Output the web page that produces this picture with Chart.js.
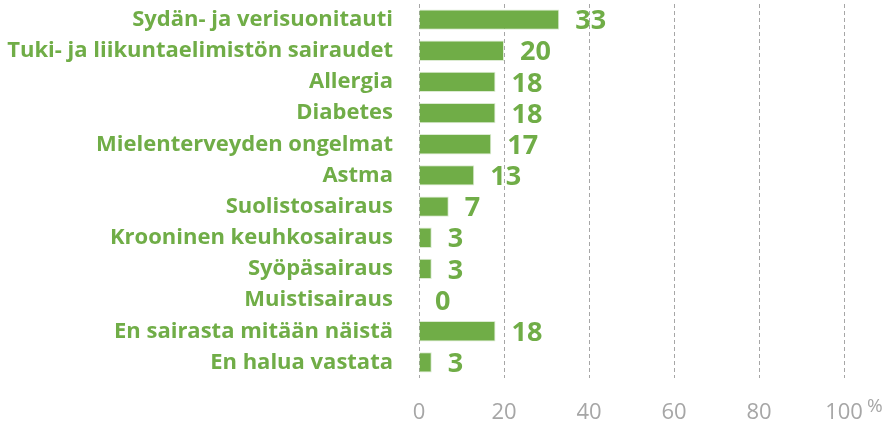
<!DOCTYPE html>
<html lang="fi">
<head>
<meta charset="UTF-8">
<title>Sairaudet</title>
<script src="https://cdn.jsdelivr.net/npm/chart.js@4.4.0/dist/chart.umd.min.js"></script>
<style>
  html, body { margin: 0; padding: 0; background: #fff; }
  #wrap { width: 889px; height: 423px; position: relative; }
</style>
</head>
<body>
<div id="wrap"><canvas id="chart"></canvas></div>
<script>
const categories = [
  "Sydän- ja verisuonitauti",
  "Tuki- ja liikuntaelimistön sairaudet",
  "Allergia",
  "Diabetes",
  "Mielenterveyden ongelmat",
  "Astma",
  "Suolistosairaus",
  "Krooninen keuhkosairaus",
  "Syöpäsairaus",
  "Muistisairaus",
  "En sairasta mitään näistä",
  "En halua vastata"
];
const values = [33, 20, 18, 18, 17, 13, 7, 3, 3, 0, 18, 3];
const xTicks = [0, 20, 40, 60, 80, 100];
const unitLabel = "%";

const GREEN = "#70AD47";
const GRAY = "#A6A6A6";

// value labels to the right of each bar
const valueLabels = {
  id: "valueLabels",
  afterDatasetsDraw(chart) {
    const ctx = chart.ctx;
    const meta = chart.getDatasetMeta(0);
    ctx.save();
    ctx.font = "bold 27px 'Open Sans'";
    ctx.fillStyle = GREEN;
    ctx.textAlign = "left";
    ctx.textBaseline = "middle";
    meta.data.forEach((bar, i) => {
      ctx.fillText(String(values[i]), bar.x + 16, bar.y + 2);
    });
    ctx.restore();
  }
};

// unit sign after the last tick
const unitSign = {
  id: "unitSign",
  afterDraw(chart) {
    const x = chart.scales.x;
    const ctx = chart.ctx;
    const last = x.getPixelForValue(xTicks[xTicks.length - 1]);
    ctx.save();
    ctx.font = "19px 'Open Sans'";
    ctx.fillStyle = GRAY;
    ctx.textAlign = "left";
    ctx.textBaseline = "middle";
    ctx.fillText(unitLabel, last + 23, 407);
    ctx.restore();
  }
};

new Chart(document.getElementById("chart"), {
  type: "bar",
  data: {
    labels: categories,
    datasets: [{
      data: values,
      backgroundColor: GREEN,
      borderColor: "#dcebd2",
      borderWidth: 1,
      categoryPercentage: 1,
      barPercentage: 0.65
    }]
  },
  options: {
    indexAxis: "y",
    responsive: true,
    maintainAspectRatio: false,
    animation: false,
    layout: { padding: { top: 4, right: 45, left: 0, bottom: 0 } },
    plugins: {
      legend: { display: false },
      tooltip: { enabled: false }
    },
    scales: {
      x: {
        min: 0,
        max: 100,
        afterBuildTicks(scale) {
          scale.ticks = xTicks.map(v => ({ value: v }));
        },
        afterFit(scale) {
          scale.height = 45;
          scale.paddingLeft = 0;
          scale.paddingRight = 0;
        },
        grid: {
          color: GRAY,
          lineWidth: 1,
          drawTicks: false
        },
        border: { display: false, dash: [4, 3] },
        ticks: {
          color: GRAY,
          font: { family: "'Open Sans'", size: 22 },
          padding: 22,
          maxRotation: 0
        }
      },
      y: {
        afterFit(scale) {
          scale.width = 419;
          scale.paddingTop = 0;
          scale.paddingBottom = 0;
        },
        grid: { display: false, drawTicks: false },
        border: { display: false },
        ticks: {
          color: GREEN,
          font: { family: "'Open Sans'", size: 22, weight: "bold" },
          padding: 26,
          autoSkip: false
        }
      }
    }
  },
  plugins: [valueLabels, unitSign]
});
</script>
</body>
</html>
